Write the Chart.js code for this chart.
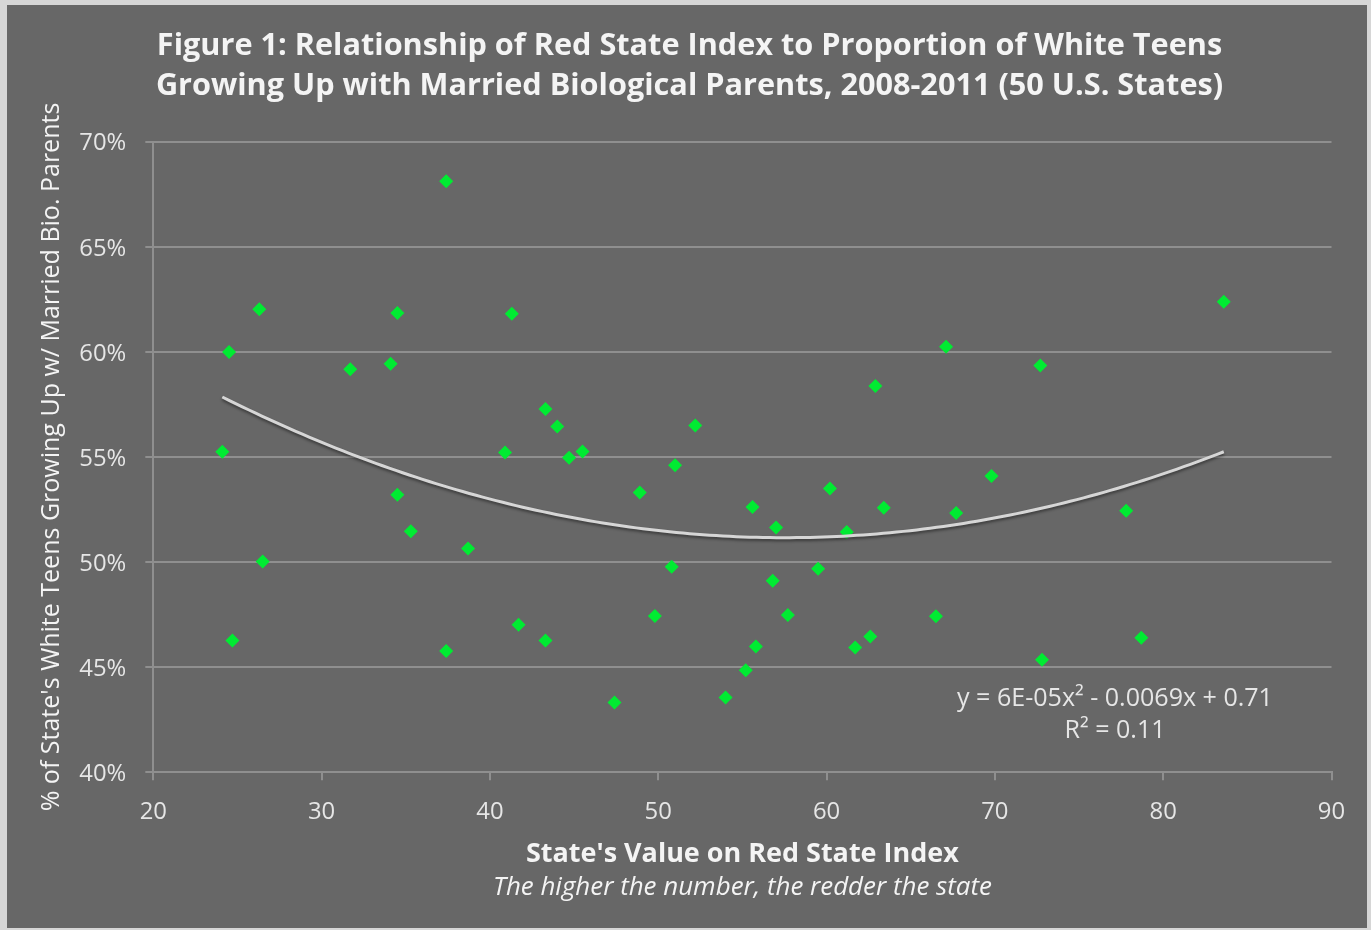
<!DOCTYPE html>
<html>
<head>
<meta charset="utf-8">
<title>Red State Index and White Teens Growing Up with Married Biological Parents</title>
<script src="https://cdn.jsdelivr.net/npm/chart.js@4.4.1/dist/chart.umd.min.js"></script>
<style>
  html, body { margin: 0; padding: 0; width: 1371px; height: 930px; overflow: hidden; background: #d6d6d6; }
  #frame { position: absolute; left: 7px; top: 5px; width: 1360px; height: 923px; background: #676767; }
</style>
</head>
<body>
<div id="frame"><canvas id="chart"></canvas></div>
<script>
// Red State Index value of each of the 50 states
const redStateIndex = [
  24.1, 24.5, 24.7, 26.3, 26.5, 31.7, 34.1, 34.5, 34.5, 35.3,
  37.4, 37.4, 38.7, 40.9, 41.3, 41.7, 43.3, 43.3, 44.0, 44.7,
  45.5, 48.9, 47.4, 49.8, 50.8, 51.0, 52.2, 54.0, 55.2, 55.6,
  55.8, 56.8, 57.0, 57.7, 59.5, 60.2, 61.2, 61.7, 62.6, 62.9,
  63.4, 66.5, 67.1, 67.7, 69.8, 72.7, 72.8, 77.8, 78.7, 83.6
];
// Share of the state's white teens living with married biological parents (%)
const marriedParentsPct = [
  55.25, 60.00, 46.27, 62.03, 50.03, 59.18, 59.44, 61.85, 53.21, 51.47,
  68.12, 45.77, 50.65, 55.21, 61.81, 47.02, 57.28, 46.27, 56.45, 54.97,
  55.26, 53.31, 43.32, 47.43, 49.78, 54.61, 56.50, 43.56, 44.85, 52.62,
  45.99, 49.11, 51.65, 47.48, 49.68, 53.50, 51.43, 45.94, 46.46, 58.38,
  52.58, 47.42, 60.24, 52.33, 54.10, 59.35, 45.35, 52.44, 46.40, 62.39
];
// Polynomial (order 2) trend: y = a*x^2 + b*x + c, y as a proportion
const trendCoefficients = [6e-5, -0.0069, 0.71];
const equationLines = ['y = 6E-05x\u00B2 - 0.0069x + 0.71', 'R\u00B2 = 0.11'];

const xTicks = [20, 30, 40, 50, 60, 70, 80, 90];
const yTicks = [40, 45, 50, 55, 60, 65, 70];

const titleLines = [
  'Figure 1: Relationship of Red State Index to Proportion of White Teens',
  'Growing Up with Married Biological Parents, 2008-2011 (50 U.S. States)'
];
const xAxisTitle = "State's Value on Red State Index";
const xAxisNote = 'The higher the number, the redder the state';
const yAxisTitle = "% of State's White Teens Growing Up w/ Married Bio. Parents";

const FAMILY = "'Open Sans', 'DejaVu Sans', sans-serif";
const measureCtx = document.createElement('canvas').getContext('2d');
function fitSize(text, style, weight, width) {
  measureCtx.font = `${style} ${weight} 100px ${FAMILY}`;
  return 100 * width / measureCtx.measureText(text).width;
}

function build() {
  const titleSize = (fitSize(titleLines[0], 'normal', 'bold', 1058) + fitSize(titleLines[1], 'normal', 'bold', 1076)) / 2;
  const tickSize = fitSize('70%', 'normal', 'normal', 47);
  const yTitleSize = fitSize(yAxisTitle, 'normal', 'normal', 709);
  const xTitleSize = fitSize(xAxisTitle, 'normal', 'bold', 433);
  const noteSize = fitSize(xAxisNote, 'italic', 'normal', 499);
  const eqSize = fitSize(equationLines[0], 'normal', 'normal', 316);

  // layout targets in canvas pixels
  const W = 1360, H = 923;
  const areaTop = 136.7, areaBottom = 767.3, areaLeft = 146.3, areaRight = 1324.5;
  const padRight = W - areaRight;
  const padLeft = 2 * 682.5 - W + padRight;      // keeps the full-width title centred at x = 682.5
  const tickLen = 8;
  const titleLine = 40.4;
  const titlePadTop = 40.8 - titleLine / 2;
  const titlePadBottom = areaTop - titlePadTop - 2 * titleLine;
  const xLabelCenter = 806, xTitleCenter = 849, noteCenter = 883;
  const xTickPad = xLabelCenter - areaBottom - tickLen - 0.6 * tickSize + 1;
  let xTitlePadTop = (xTitleCenter + 0.6 * xTitleSize - areaBottom) - tickLen - 2 * xTickPad - 1.2 * tickSize - 1.2 * xTitleSize;
  const notePadTop = noteCenter - 0.6 * noteSize - (xTitleCenter + 0.6 * xTitleSize);
  const padBottom = H - (noteCenter + 0.6 * noteSize);
  const yTitlePadTop = 45 - padLeft - 0.6 * yTitleSize;

  const points = redStateIndex.map((x, i) => ({ x, y: marriedParentsPct[i] }));
  const [a, b, c] = trendCoefficients;
  const xMin = Math.min(...redStateIndex), xMax = Math.max(...redStateIndex);
  const trend = [];
  const steps = 150;
  for (let i = 0; i <= steps; i++) {
    const x = xMin + (xMax - xMin) * i / steps;
    trend.push({ x, y: 100 * (a * x * x + b * x + c) });
  }

  const lineColor = '#8f8f8f';
  const textColor = '#e6e6e6';
  const headColor = '#f4f4f4';

  const trendShadow = {
    id: 'trendShadow',
    beforeDatasetDraw(chart, args) {
      if (args.index !== 0) return;
      const ctx = chart.ctx;
      ctx.save();
      ctx.shadowColor = 'rgba(0,0,0,0.45)';
      ctx.shadowBlur = 3;
      ctx.shadowOffsetY = 2;
    },
    afterDatasetDraw(chart, args) {
      if (args.index !== 0) return;
      chart.ctx.restore();
    }
  };

  const equationLabel = {
    id: 'equationLabel',
    afterDraw(chart) {
      const { ctx, chartArea } = chart;
      ctx.save();
      ctx.font = `normal 400 ${eqSize}px ${FAMILY}`;
      ctx.fillStyle = textColor;
      ctx.textAlign = 'center';
      ctx.textBaseline = 'middle';
      const cx = chartArea.right - 216.5;
      ctx.fillText(equationLines[0], cx, chartArea.bottom - 73.3);
      ctx.fillText(equationLines[1], cx, chartArea.bottom - 41.3);
      ctx.restore();
    }
  };

  const chart = new Chart(document.getElementById('chart'), {
    type: 'scatter',
    data: {
      datasets: [
        {
          label: 'Poly. (trend)',
          data: trend,
          showLine: true,
          pointRadius: 0,
          pointHoverRadius: 0,
          borderColor: '#d6d6d6',
          borderWidth: 3,
          tension: 0,
          fill: false
        },
        {
          label: 'States',
          data: points,
          pointStyle: 'rectRot',
          pointRadius: 7,
          pointHoverRadius: 7,
          backgroundColor: '#00eb32',
          borderColor: '#00eb32',
          borderWidth: 0
        }
      ]
    },
    options: {
      responsive: true,
      maintainAspectRatio: false,
      devicePixelRatio: 1,
      animation: false,
      events: [],
      layout: { padding: { left: padLeft, top: 0, right: padRight, bottom: padBottom } },
      plugins: {
        legend: { display: false },
        tooltip: { enabled: false },
        title: {
          display: true,
          text: titleLines,
          color: headColor,
          font: { family: FAMILY, size: titleSize, weight: 'bold', lineHeight: titleLine / titleSize },
          padding: { top: titlePadTop, bottom: titlePadBottom }
        },
        subtitle: {
          display: true,
          position: 'bottom',
          fullSize: false,
          text: xAxisNote,
          color: headColor,
          font: { family: FAMILY, size: noteSize, style: 'italic', weight: 'normal' },
          padding: { top: notePadTop, bottom: 0 }
        }
      },
      scales: {
        x: {
          type: 'linear',
          min: xTicks[0],
          max: xTicks[xTicks.length - 1],
          afterBuildTicks: (scale) => { scale.ticks = xTicks.map(v => ({ value: v })); },
          afterFit: (scale) => { scale.paddingLeft = 0; scale.paddingRight = 0; },
          grid: { display: true, drawOnChartArea: false, drawTicks: true, tickLength: tickLen, color: lineColor, lineWidth: 2 },
          border: { display: true, color: lineColor, width: 2 },
          ticks: {
            color: textColor,
            padding: xTickPad,
            maxRotation: 0,
            font: { family: FAMILY, size: tickSize }
          },
          title: {
            display: true,
            text: xAxisTitle,
            color: headColor,
            font: { family: FAMILY, size: xTitleSize, weight: 'bold' },
            padding: { top: xTitlePadTop, bottom: 0 }
          }
        },
        y: {
          type: 'linear',
          min: yTicks[0],
          max: yTicks[yTicks.length - 1],
          afterBuildTicks: (scale) => { scale.ticks = yTicks.map(v => ({ value: v })); },
          afterFit: (scale) => { scale.width = areaLeft - padLeft; },
          grid: { display: true, drawOnChartArea: true, drawTicks: true, tickLength: tickLen, color: lineColor, lineWidth: 2 },
          border: { display: true, color: lineColor, width: 2 },
          ticks: {
            color: textColor,
            padding: 19,
            labelOffset: 2,
            font: { family: FAMILY, size: tickSize },
            callback: (v) => v + '%'
          },
          title: {
            display: true,
            text: yAxisTitle,
            color: headColor,
            font: { family: FAMILY, size: yTitleSize, weight: 'normal' },
            padding: { top: yTitlePadTop, bottom: 0 }
          }
        }
      }
    },
    plugins: [trendShadow, equationLabel]
  });

  // keep the bottom axis line at areaBottom by trimming the space above the axis title
  for (let k = 0; k < 4; k++) {
    const dAxis = chart.scales.x.top - areaBottom;
    if (Math.abs(dAxis) < 0.05) break;
    xTitlePadTop += dAxis;
    chart.options.scales.x.title.padding = { top: xTitlePadTop, bottom: 0 };
    chart.update('none');
  }
}

build();
</script>
</body>
</html>
